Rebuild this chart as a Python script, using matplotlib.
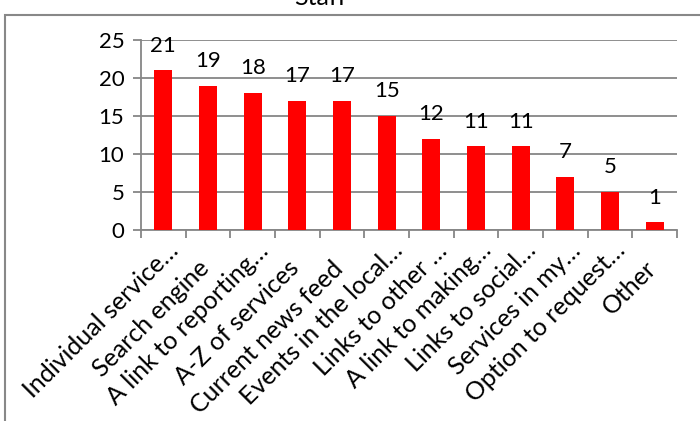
import matplotlib
matplotlib.use("Agg")
import matplotlib.pyplot as plt
from matplotlib.patches import Rectangle
from matplotlib.transforms import ScaledTranslation

categories = ["Individual service…", "Search engine", "A link to reporting…", "A-Z of services",
              "Current news feed", "Events in the local…", "Links to other …", "A link to making…",
              "Links to social…", "Services in my…", "Option to request…", "Other"]
values = [21, 19, 18, 17, 17, 15, 12, 11, 11, 7, 5, 1]
yticks = [0, 5, 10, 15, 20, 25]
title = "Staff"

plt.rcParams['font.family'] = ['Lato', 'DejaVu Sans']
W, H = 700, 421
fig = plt.figure(figsize=(W / 100, H / 100), dpi=100)
ax = fig.add_axes([141 / W, 1 - 230 / H, (677 - 141) / W, (230 - 40) / H])

grid_c = "#868686"
x = list(range(len(categories)))
ax.bar(x, values, width=0.4, color="#ff0000", zorder=3)
for xi, v in zip(x, values):
    ax.annotate(str(v), (xi, v), xytext=(0, 13.5), textcoords="offset points",
                ha="center", va="baseline", fontsize=16, color="black", zorder=4)

ax.set_xlim(-0.5, len(categories) - 0.5)
ax.set_ylim(0, 25)
ax.set_yticks(yticks)
ax.set_yticklabels([str(t) for t in yticks], fontsize=16)
ax.yaxis.grid(True, color=grid_c, linewidth=1.3, zorder=0)
ax.tick_params(axis='y', length=6, color=grid_c, width=1.3, pad=6)

ax.set_xticks(x)
ax.set_xticklabels(categories, rotation=45, ha="right", va="baseline",
                   rotation_mode="anchor", fontsize=18)
ax.tick_params(axis='x', length=0, pad=0)
ax.set_xticks([i - 0.5 for i in range(len(categories) + 1)], minor=True)
ax.tick_params(axis='x', which='minor', length=6, color=grid_c, width=1.3)

# position label ends like the reference (ellipsis labels end higher along the text direction)
for lab, name in zip(ax.get_xticklabels(), categories):
    if name.endswith("…"):
        dx, dy = 17, -22
    else:
        dx, dy = 3, -40
    lab.set_transform(lab.get_transform() + ScaledTranslation(dx / 100, dy / 100, fig.dpi_scale_trans))

for s in ["top", "right"]:
    ax.spines[s].set_visible(False)
for s in ["left", "bottom"]:
    ax.spines[s].set_color(grid_c)
    ax.spines[s].set_linewidth(1.3)

fig.patches.append(Rectangle((5 / W, -0.1), 1.2, 1 + 0.1 - 15 / H, transform=fig.transFigure,
                             fill=False, edgecolor="#888888", linewidth=1.5))
fig.text(320 / W, 1 - 5 / H, title, ha="center", va="baseline", fontsize=18)

fig.savefig("out.png", dpi=100)
